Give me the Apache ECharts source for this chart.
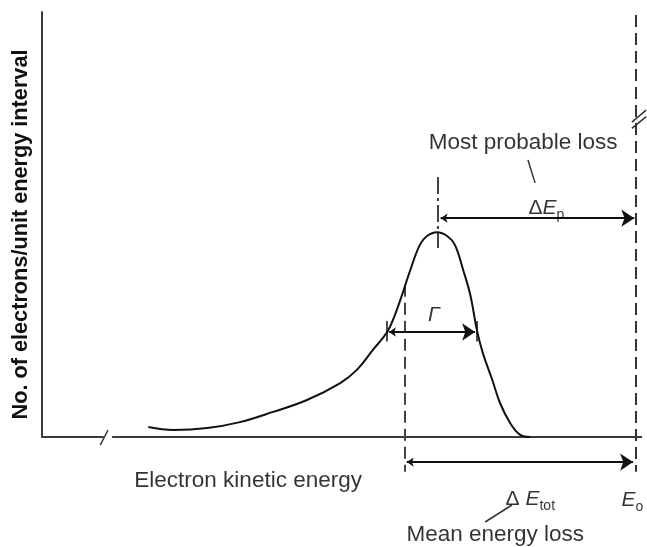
<!DOCTYPE html>
<html><head><meta charset="utf-8">
<script src="https://cdn.jsdelivr.net/npm/echarts@6/dist/echarts.min.js"></script>
<style>html,body{margin:0;padding:0;background:#fff}#c{width:647px;height:547px}</style>
</head><body><div id="c"></div>
<script>
// ---- data (arbitrary energy units / arbitrary counts) ----
const curveEnergy = [17.9,22.1,27.8,33.3,38.9,44.6,50.2,53.0,55.7,58.1,59.4,60.6,62.0,63.6,64.8,66.5,68.2,69.5,70.9,72.1,73.2,74.2,75.8,77.1,78.8,80.5,82.2];
const curveCounts = [2.35,1.65,2.1,3.5,5.9,8.7,12.7,15.8,20.5,24.7,28.7,33.4,39.3,45.2,47.3,48.2,47.3,45.2,39.3,33.4,25.2,19.8,13.4,8.0,3.3,0.5,0];
const E0 = 100;                 // incident energy
const meanLossEnergy = 61;      // E0 - ΔEtot
const mostProbableEnergy = 66.6;// E0 - ΔEp
const gammaRange = [58.1, 73.2];
const gammaLevel = 24.7;        // half maximum
const dEpLevel = 51.5;
const dEtotLevel = -5.9;
const xMax = 101, yMax = 100;
const axisBreak = [10.4, 11.8];
const textLabels = [
  {name:'yTitle', text:'No. of electrons/unit energy interval'},
  {name:'xTitle', text:'Electron kinetic energy', at:[34.7,-10.3]},
  {name:'mpl', text:'Most probable loss', at:[81.0,69.3]},
  {name:'mel', text:'Mean energy loss', at:[76.3,-23.1]}
];
// ---------------------------------------------------------

const chart = echarts.init(document.getElementById('c'), null, {renderer:'canvas'});
const FONT = '"Liberation Sans", Arial, sans-serif';
const INK = '#000';
const curve = curveEnergy.map((e,i)=>[e, curveCounts[i]]);

function seg(a,b){ return {coords:[a,b]}; }
function lineSeries(name, segs, style, extra){
  return Object.assign({
    type:'lines', name, coordinateSystem:'cartesian2d', clip:false, silent:true,
    polyline:false, symbol:'none', lineStyle:Object.assign({color:'#111', width:2, opacity:1}, style),
    data:segs, z:3
  }, extra||{});
}
const rich = {
  n:{fontFamily:FONT, fontSize:22.5, color:INK},
  m:{fontFamily:FONT, fontSize:21, color:INK},
  i:{fontFamily:FONT, fontSize:21, color:INK, fontStyle:'italic'},
  s:{fontFamily:FONT, fontSize:14, color:INK, padding:[14,0,0,0]}
};
function lbl(pos, fmt){ return {value:pos, label:{show:true, position:'inside', formatter:fmt, rich,
  fontFamily:FONT, fontSize:21, color:INK, textBorderWidth:0, align:'center', verticalAlign:'middle'}}; }

const option = {
  animation:false,
  grid:{left:42, right:5, top:12, bottom:110, containLabel:false},
  xAxis:{type:'value', min:0, max:xMax, show:false},
  yAxis:{type:'value', min:0, max:yMax,
    axisLine:{show:true, lineStyle:{color:'#3a3a3a', width:2}},
    axisTick:{show:false}, axisLabel:{show:false}, splitLine:{show:false},
    name:textLabels[0].text, nameLocation:'middle', nameRotate:90, nameGap:10,
    nameTextStyle:{fontFamily:FONT, fontSize:21.7, fontWeight:'bold', color:'#111', padding:[0,20,0,0]}
  },
  series:[
    {type:'line', name:'spectrum', data:curve, smooth:0.4, showSymbol:false, symbol:'none', clip:false,
     lineStyle:{color:'#111', width:2}, z:4},
    // x axis with break
    lineSeries('xaxis', [seg([0,0],[axisBreak[0],0]), seg([axisBreak[1],0],[xMax,0])], {color:'#3a3a3a', width:2}),
    lineSeries('break', [seg([9.8,-1.9],[11.1,1.6])], {color:'#3a3a3a', width:1.5}),
    // E0 dashed line and its break marks
    lineSeries('E0', [seg([E0,99.3],[E0,-8.2])], {color:'#333', width:2, type:[12,6]}),
    lineSeries('E0break', [seg([E0-0.7,74.1],[E0+1.7,76.9]), seg([E0-0.7,72.6],[E0+1.7,75.4])], {color:'#333', width:1.5}),
    // mean loss dashed line
    lineSeries('mean', [seg([meanLossEnergy,35.8],[meanLossEnergy,-8.2])], {color:'#444', width:2, type:[12,6]}),
    // most probable dash-dot
    lineSeries('peak', [seg([mostProbableEnergy,61.2],[mostProbableEnergy,44.5])], {color:'#444', width:2, type:[17,4,3,4]}),
    // gamma end ticks
    lineSeries('gticks', [seg([gammaRange[0],gammaLevel+2.6],[gammaRange[0],gammaLevel-2.2]), seg([gammaRange[1],gammaLevel+2.6],[gammaRange[1],gammaLevel-2.2])], {color:'#111', width:1.5}),
    // arrows
    lineSeries('arrows', [
      seg([gammaRange[0]+0.3,gammaLevel],[gammaRange[1]-0.3,gammaLevel]),
      seg([mostProbableEnergy+0.5,dEpLevel],[E0-0.3,dEpLevel]),
      seg([meanLossEnergy+0.4,dEtotLevel],[E0-0.5,dEtotLevel])
    ], {color:'#111', width:2}, {symbol:['arrow','arrow'], symbolSize:[7,13]}),
    // leader lines
    lineSeries('leaders', [seg([81.8,65.2],[83.0,59.8]), seg([79.1,-16.0],[74.6,-20.0])], {color:'#333', width:1.5}),
    // labels
    {type:'scatter', name:'labels', symbolSize:0, clip:false, silent:true, z:5,
     data:[
       lbl(textLabels[1].at, '{n|' + textLabels[1].text + '}'),
       lbl(textLabels[2].at, '{n|' + textLabels[2].text + '}'),
       lbl(textLabels[3].at, '{n|' + textLabels[3].text + '}'),
       lbl([66.0,28.6], '{i|Γ}'),
       lbl([84.9,53.8], '{m|Δ}{i|E}{s|p}'),
       lbl([82.2,-14.6], '{m|Δ }{i|E}{s|tot}'),
       lbl([99.4,-14.8], '{i|E}{s|o}')
     ]}
  ]
};
chart.setOption(option);
</script></body></html>
